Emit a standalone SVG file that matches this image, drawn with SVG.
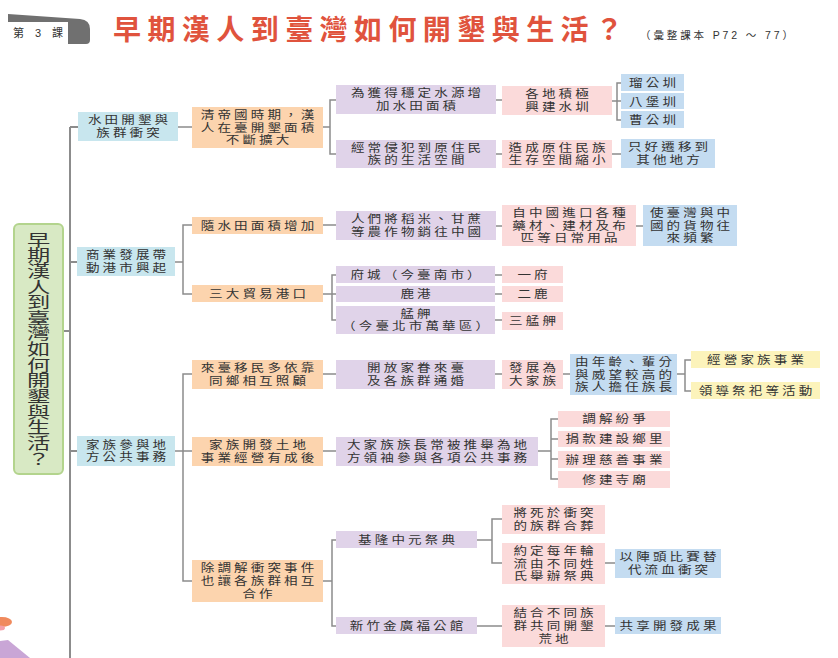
<svg xmlns="http://www.w3.org/2000/svg" width="838" height="658" viewBox="0 0 838 658">
<style>
text{font-family:"Liberation Sans","Noto Sans CJK TC","Noto Sans CJK SC",sans-serif;fill:#333}
.t{font-size:11.5px;letter-spacing:2.65px;text-anchor:middle}
.c{fill:none;stroke:#8c8c8c;stroke-width:1.5}
.l1{fill:#c8e6ee}.l2{fill:#fcd4ae}.l3{fill:#e0d3e9}.l4{fill:#fbdada}.l5{fill:#c4dcf1}.l6{fill:#fcf3bb}
</style>
<rect width="838" height="658" fill="#fff"/>
<g id="header">
<path d="M8,14 L80,19 Q90,20 90,29 L90,40 Q90,44 86,44 L68,44 L68,24 L8,22 Z" fill="#707070"/>
<rect x="9" y="22" width="59" height="21" fill="#fff"/>
<text x="13" y="37" font-size="11" textLength="50" lengthAdjust="spacing">第 3 課</text>
<text x="113" y="40" font-size="28" font-weight="bold" textLength="510" lengthAdjust="spacing" style="font-family:'Noto Sans CJK TC',sans-serif;fill:#e0533d">早期漢人到臺灣如何開墾與生活？</text>
<text x="640" y="39" font-size="10.5" textLength="153" lengthAdjust="spacing">（彙整課本 P72 ～ 77）</text>
</g>
<g id="connectors">
<path class="c" d="M70,127 V658 M63,331 H70 M70,127 H78 M70,262 H77 M70,451 H77" style="stroke-width:2"/>
<path class="c" d="M178,127 H192 M175,262 H183 M192,225 H183 V294 H192 M175,451 H192 M192,374 H183 V581 H192"/>
<path class="c" d="M323,127 H330 M336,100 H330 V154 H336 M323,225 H336 M323,294 H336 M336,275 H332 V320 H336 M323,374 H336 M323,451 H336 M323,581 H332 M336,540 H332 V626 H336"/>
<path class="c" d="M496,100 H502 M496,154 H502 M496,226 H502 M495,275 H502 M495,294 H502 M495,320 H502 M495,374 H502 M538,451 H551 M558,419 H551 V479 H558 M551,439 H558 M551,459 H558 M477,540 H492 M502,519 H492 V563 H502 M477,626 H502"/>
<path class="c" d="M612,101 H617 M621,83 H617 V120 H621 M617,101 H621 M612,154 H621 M636,226 H643 M563,374 H570 M605,563 H615 M605,626 H615 M677,374 H685 M691,360 H685 V391 H691"/>
</g>
<g id="root">
<rect x="14" y="224" width="49" height="250" rx="5" fill="#d8e9c4" stroke="#b3d48d" stroke-width="2"/>
<text transform="translate(38.5,232) scale(1.5,1)" x="0" y="0" font-size="15.5" letter-spacing="0.15" style="writing-mode:vertical-rl;font-family:'Noto Sans CJK TC',sans-serif">早期漢人到臺灣如何開墾與生活？</text>
</g>
<g id="n1a"><rect class="l1" x="78" y="112" width="100" height="29"/><text class="t" transform="translate(129.6,124.2) scale(1.18,0.95)"><tspan x="0" y="0">水田開墾與</tspan><tspan x="0" y="13.47">族群衝突</tspan></text></g>
<g id="n1b"><rect class="l1" x="77" y="247" width="98" height="29"/><text class="t" transform="translate(127.6,259.2) scale(1.18,0.95)"><tspan x="0" y="0">商業發展帶</tspan><tspan x="0" y="13.47">動港市興起</tspan></text></g>
<g id="n1c"><rect class="l1" x="77" y="436" width="98" height="30"/><text class="t" transform="translate(127.6,448.7) scale(1.18,0.95)"><tspan x="0" y="0">家族參與地</tspan><tspan x="0" y="13.47">方公共事務</tspan></text></g>

<g id="n2a"><rect class="l2" x="192" y="107" width="131" height="41"/><text class="t" transform="translate(259.1,118.8) scale(1.18,0.95)"><tspan x="0" y="0">清帝國時期，漢</tspan><tspan x="0" y="13.47">人在臺開墾面積</tspan><tspan x="0" y="26.95">不斷擴大</tspan></text></g>
<g id="n2b"><rect class="l2" x="192" y="217" width="131" height="17"/><text class="t" transform="translate(259.1,229.6) scale(1.18,0.95)"><tspan x="0" y="0">隨水田面積增加</tspan></text></g>
<g id="n2c"><rect class="l2" x="192" y="285" width="131" height="17"/><text class="t" transform="translate(259.1,297.6) scale(1.18,0.95)"><tspan x="0" y="0">三大貿易港口</tspan></text></g>
<g id="n2d"><rect class="l2" x="192" y="360" width="131" height="29"/><text class="t" transform="translate(259.1,372.2) scale(1.18,0.95)"><tspan x="0" y="0">來臺移民多依靠</tspan><tspan x="0" y="13.47">同鄉相互照顧</tspan></text></g>
<g id="n2e"><rect class="l2" x="192" y="437" width="131" height="29"/><text class="t" transform="translate(259.1,449.2) scale(1.18,0.95)"><tspan x="0" y="0">家族開發土地</tspan><tspan x="0" y="13.47">事業經營有成後</tspan></text></g>
<g id="n2f"><rect class="l2" x="192" y="560" width="131" height="42"/><text class="t" transform="translate(259.1,572.3) scale(1.18,0.95)"><tspan x="0" y="0">除調解衝突事件</tspan><tspan x="0" y="13.47">也讓各族群相互</tspan><tspan x="0" y="26.95">合作</tspan></text></g>

<g id="n3a"><rect class="l3" x="336" y="85" width="160" height="29"/><text class="t" transform="translate(417.6,97.2) scale(1.18,0.95)"><tspan x="0" y="0">為獲得穩定水源增</tspan><tspan x="0" y="13.47">加水田面積</tspan></text></g>
<g id="n3b"><rect class="l3" x="336" y="140" width="160" height="28"/><text class="t" transform="translate(417.6,151.7) scale(1.18,0.95)"><tspan x="0" y="0">經常侵犯到原住民</tspan><tspan x="0" y="13.47">族的生活空間</tspan></text></g>
<g id="n3c"><rect class="l3" x="336" y="211" width="160" height="29"/><text class="t" transform="translate(417.6,223.2) scale(1.18,0.95)"><tspan x="0" y="0">人們將稻米、甘蔗</tspan><tspan x="0" y="13.47">等農作物銷往中國</tspan></text></g>
<g id="n3d"><rect class="l3" x="336" y="266" width="159" height="17"/><text class="t" transform="translate(417.1,278.6) scale(1.18,0.95)"><tspan x="0" y="0">府城（今臺南市）</tspan></text></g>
<g id="n3e"><rect class="l3" x="336" y="286" width="159" height="16"/><text class="t" transform="translate(417.1,298.1) scale(1.18,0.95)"><tspan x="0" y="0">鹿港</tspan></text></g>
<g id="n3f"><rect class="l3" x="336" y="306" width="159" height="28"/><text class="t" transform="translate(417.1,317.7) scale(1.18,0.95)"><tspan x="0" y="0">艋舺</tspan><tspan x="0" y="13.47">（今臺北市萬華區）</tspan></text></g>
<g id="n3g"><rect class="l3" x="336" y="360" width="159" height="29"/><text class="t" transform="translate(417.1,372.2) scale(1.18,0.95)"><tspan x="0" y="0">開放家眷來臺</tspan><tspan x="0" y="13.47">及各族群通婚</tspan></text></g>
<g id="n3h"><rect class="l3" x="336" y="437" width="202" height="29"/><text class="t" transform="translate(438.6,449.2) scale(1.18,0.95)"><tspan x="0" y="0">大家族族長常被推舉為地</tspan><tspan x="0" y="13.47">方領袖參與各項公共事務</tspan></text></g>
<g id="n3i"><rect class="l3" x="336" y="531" width="141" height="17"/><text class="t" transform="translate(408.1,543.6) scale(1.18,0.95)"><tspan x="0" y="0">基隆中元祭典</tspan></text></g>
<g id="n3j"><rect class="l3" x="336" y="617" width="141" height="17"/><text class="t" transform="translate(408.1,629.6) scale(1.18,0.95)"><tspan x="0" y="0">新竹金廣福公館</tspan></text></g>

<g id="n4a"><rect class="l4" x="502" y="86" width="110" height="29"/><text class="t" transform="translate(558.6,98.2) scale(1.18,0.95)"><tspan x="0" y="0">各地積極</tspan><tspan x="0" y="13.47">興建水圳</tspan></text></g>
<g id="n4b"><rect class="l4" x="502" y="140" width="110" height="28"/><text class="t" transform="translate(558.6,151.7) scale(1.18,0.95)"><tspan x="0" y="0">造成原住民族</tspan><tspan x="0" y="13.47">生存空間縮小</tspan></text></g>
<g id="n4c"><rect class="l4" x="502" y="205" width="134" height="41"/><text class="t" transform="translate(570.6,216.8) scale(1.18,0.95)"><tspan x="0" y="0">自中國進口各種</tspan><tspan x="0" y="13.47">藥材、建材及布</tspan><tspan x="0" y="26.95">匹等日常用品</tspan></text></g>
<g id="n4d"><rect class="l4" x="502" y="266" width="61" height="17"/><text class="t" transform="translate(534.1,278.6) scale(1.18,0.95)"><tspan x="0" y="0">一府</tspan></text></g>
<g id="n4e"><rect class="l4" x="502" y="286" width="61" height="16"/><text class="t" transform="translate(534.1,298.1) scale(1.18,0.95)"><tspan x="0" y="0">二鹿</tspan></text></g>
<g id="n4f"><rect class="l4" x="502" y="312" width="61" height="18"/><text class="t" transform="translate(534.1,325.1) scale(1.18,0.95)"><tspan x="0" y="0">三艋舺</tspan></text></g>
<g id="n4g"><rect class="l4" x="502" y="360" width="61" height="29"/><text class="t" transform="translate(534.1,372.2) scale(1.18,0.95)"><tspan x="0" y="0">發展為</tspan><tspan x="0" y="13.47">大家族</tspan></text></g>
<g id="n4h"><rect class="l4" x="558" y="411" width="112" height="16"/><text class="t" transform="translate(615.6,423.1) scale(1.18,0.95)"><tspan x="0" y="0">調解紛爭</tspan></text></g>
<g id="n4i"><rect class="l4" x="558" y="431" width="112" height="16"/><text class="t" transform="translate(615.6,443.1) scale(1.18,0.95)"><tspan x="0" y="0">捐款建設鄉里</tspan></text></g>
<g id="n4j"><rect class="l4" x="558" y="451" width="112" height="17"/><text class="t" transform="translate(615.6,463.6) scale(1.18,0.95)"><tspan x="0" y="0">辦理慈善事業</tspan></text></g>
<g id="n4k"><rect class="l4" x="558" y="471" width="112" height="17"/><text class="t" transform="translate(615.6,483.6) scale(1.18,0.95)"><tspan x="0" y="0">修建寺廟</tspan></text></g>
<g id="n4l"><rect class="l4" x="502" y="505" width="103" height="29"/><text class="t" transform="translate(555.1,517.2) scale(1.18,0.95)"><tspan x="0" y="0">將死於衝突</tspan><tspan x="0" y="13.47">的族群合葬</tspan></text></g>
<g id="n4m"><rect class="l4" x="502" y="543" width="103" height="41"/><text class="t" transform="translate(555.1,554.8) scale(1.18,0.95)"><tspan x="0" y="0">約定每年輪</tspan><tspan x="0" y="13.47">流由不同姓</tspan><tspan x="0" y="26.95">氏舉辦祭典</tspan></text></g>
<g id="n4n"><rect class="l4" x="502" y="605" width="103" height="42"/><text class="t" transform="translate(555.1,617.3) scale(1.18,0.95)"><tspan x="0" y="0">結合不同族</tspan><tspan x="0" y="13.47">群共同開墾</tspan><tspan x="0" y="26.95">荒地</tspan></text></g>

<g id="n5a"><rect class="l5" x="621" y="74" width="63" height="17"/><text class="t" transform="translate(654.1,86.6) scale(1.18,0.95)"><tspan x="0" y="0">瑠公圳</tspan></text></g>
<g id="n5b"><rect class="l5" x="621" y="93" width="63" height="16"/><text class="t" transform="translate(654.1,105.6) scale(1.18,0.95)"><tspan x="0" y="0">八堡圳</tspan></text></g>
<g id="n5c"><rect class="l5" x="621" y="111" width="63" height="17"/><text class="t" transform="translate(654.1,123.6) scale(1.18,0.95)"><tspan x="0" y="0">曹公圳</tspan></text></g>
<g id="n5d"><rect class="l5" x="621" y="139" width="94" height="29"/><text class="t" transform="translate(669.6,151.2) scale(1.18,0.95)"><tspan x="0" y="0">只好遷移到</tspan><tspan x="0" y="13.47">其他地方</tspan></text></g>
<g id="n5e"><rect class="l5" x="643" y="205" width="94" height="41"/><text class="t" transform="translate(691.6,216.8) scale(1.18,0.95)"><tspan x="0" y="0">使臺灣與中</tspan><tspan x="0" y="13.47">國的貨物往</tspan><tspan x="0" y="26.95">來頻繁</tspan></text></g>
<g id="n5f"><rect class="l5" x="570" y="354" width="107" height="41"/><text class="t" transform="translate(625.1,365.8) scale(1.18,0.95)"><tspan x="0" y="0">由年齡、輩分</tspan><tspan x="0" y="13.47">與威望較高的</tspan><tspan x="0" y="26.95">族人擔任族長</tspan></text></g>
<g id="n5g"><rect class="l5" x="615" y="549" width="106" height="29"/><text class="t" transform="translate(669.6,561.2) scale(1.18,0.95)"><tspan x="0" y="0">以陣頭比賽替</tspan><tspan x="0" y="13.47">代流血衝突</tspan></text></g>
<g id="n5h"><rect class="l5" x="615" y="617" width="106" height="17"/><text class="t" transform="translate(669.6,629.6) scale(1.18,0.95)"><tspan x="0" y="0">共享開發成果</tspan></text></g>

<g id="n6a"><rect class="l6" x="691" y="351" width="129" height="17"/><text class="t" transform="translate(757.1,363.6) scale(1.18,0.95)"><tspan x="0" y="0">經營家族事業</tspan></text></g>
<g id="n6b"><rect class="l6" x="691" y="382" width="129" height="17"/><text class="t" transform="translate(757.1,394.6) scale(1.18,0.95)"><tspan x="0" y="0">領導祭祀等活動</tspan></text></g>

<g id="decor">
<ellipse cx="2" cy="622" rx="10" ry="5" fill="#f08a5d"/>
<ellipse cx="0" cy="628" rx="5" ry="2.5" fill="#f5a0a8"/>
<polygon points="0,641 8,640 30,658 0,658" fill="#c9a6d6"/>
</g>
</svg>
